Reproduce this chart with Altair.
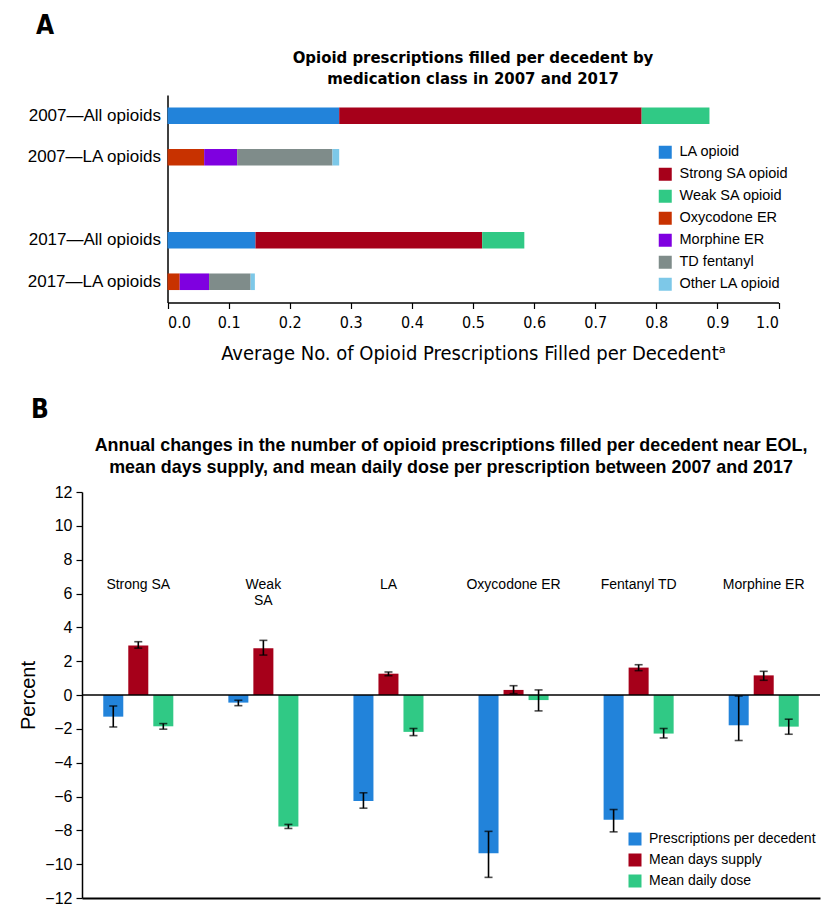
import altair as alt
import pandas as pd

COND = "Liberation Sans Narrow, DejaVu Sans Condensed, Arial Narrow, sans-serif"
REG = "Liberation Sans, Arial, Helvetica, sans-serif"

# ---------------- Panel A data ----------------
row_slots = ["2007—All opioids", "2007—LA opioids", " ", "2017—All opioids", "2017—LA opioids"]
classes_all = ["LA opioid", "Strong SA opioid", "Weak SA opioid"]
classes_la = ["Oxycodone ER", "Morphine ER", "TD fentanyl", "Other LA opioid"]
all_2007 = [0.281, 0.495, 0.111]
la_2007 = [0.060, 0.054, 0.156, 0.011]
all_2017 = [0.144, 0.371, 0.069]
la_2017 = [0.020, 0.048, 0.068, 0.007]
colors_a = ["#2283DA", "#A6001A", "#30C985", "#C83200", "#7F00E0", "#7F8C8A", "#7DC8E8"]
x_ticks_a = [0.0, 0.1, 0.2, 0.3, 0.4, 0.5, 0.6, 0.7, 0.8, 0.9, 1.0]
heading_a = "Opioid prescriptions filled per decedent by\nmedication class in 2007 and 2017"

# ---------------- Panel B data ----------------
cats_b = ["Strong SA", "Weak SA", "LA", "Oxycodone ER", "Fentanyl TD", "Morphine ER"]
cat_labels_b = ["Strong SA", "Weak\nSA", "LA", "Oxycodone ER", "Fentanyl TD", "Morphine ER"]
measures_b = ["Prescriptions per decedent", "Mean days supply", "Mean daily dose"]
rx_per_decedent = [-1.28, -0.45, -6.27, -9.36, -7.38, -1.79]
rx_lo = [-1.89, -0.63, -6.69, -10.78, -8.09, -2.69]
rx_hi = [-0.65, -0.31, -5.78, -8.06, -6.77, -0.06]
days_supply = [2.93, 2.76, 1.26, 0.30, 1.62, 1.16]
ds_lo = [2.77, 2.36, 1.14, 0.08, 1.44, 0.87]
ds_hi = [3.15, 3.23, 1.36, 0.55, 1.79, 1.40]
daily_dose = [-1.85, -7.77, -2.18, -0.30, -2.28, -1.87]
dd_lo = [-2.02, -7.89, -2.40, -0.94, -2.54, -2.32]
dd_hi = [-1.69, -7.65, -1.98, 0.30, -1.98, -1.43]
colors_b = ["#2283DA", "#A6001A", "#30C985"]
y_ticks_b = [-12, -10, -8, -6, -4, -2, 0, 2, 4, 6, 8, 10, 12]
heading_b = ("Annual changes in the number of opioid prescriptions filled per decedent near EOL,\n"
             "mean days supply, and mean daily dose per prescription between 2007 and 2017")

# ---------------- build tables ----------------
recs = []
for row, classes, vals in [
    ("2007—All opioids", classes_all, all_2007),
    ("2007—LA opioids", classes_la, la_2007),
    ("2017—All opioids", classes_all, all_2017),
    ("2017—LA opioids", classes_la, la_2017),
]:
    for i, (c, v) in enumerate(zip(classes, vals)):
        recs.append({"row": row, "cls": c, "value": v, "order": i})
df_a = pd.DataFrame(recs)

recs = []
for m, vals, los, his in [
    (measures_b[0], rx_per_decedent, rx_lo, rx_hi),
    (measures_b[1], days_supply, ds_lo, ds_hi),
    (measures_b[2], daily_dose, dd_lo, dd_hi),
]:
    for c, v, lo, hi in zip(cats_b, vals, los, his):
        recs.append({"cat": c, "measure": m, "value": v, "lo": lo, "hi": hi})
df_b = pd.DataFrame(recs)
df_lab = pd.DataFrame({"cat": cats_b, "label": cat_labels_b})

W = 738
HA = 207.5
HB = 406

# ---------------- Panel A ----------------
xa = alt.X(
    "value:Q", stack="zero",
    scale=alt.Scale(domain=[0, 1], range=[85.5, 696.5], nice=False, zero=True),
    axis=alt.Axis(values=x_ticks_a, format=".1f", tickSize=6, labelPadding=6,
                  labelFont=COND, labelFontSize=16, domainWidth=1.5, tickWidth=1.2,
                  title="Average No. of Opioid Prescriptions Filled per Decedentᵃ",
                  titleFont=COND, titleFontSize=20, titleFontWeight="normal",
                  titlePadding=13),
)
ya = alt.Y(
    "row:N",
    scale=alt.Scale(domain=row_slots, paddingInner=0.6, paddingOuter=0.3),
    axis=alt.Axis(title=None, ticks=False, offset=-85.5, labelFont=REG,
                  labelFontSize=17, labelPadding=7, domainWidth=1.5),
)
bars_a = alt.Chart(df_a).mark_bar().encode(
    x=xa,
    y=ya,
    order=alt.Order("order:Q", sort="ascending"),
    color=alt.Color(
        "cls:N",
        scale=alt.Scale(domain=classes_all + classes_la, range=colors_a),
        legend=alt.Legend(title=None, orient="none", legendX=576, legendY=50,
                          symbolType="square", symbolSize=169, symbolStrokeWidth=0,
                          labelFont=REG, labelFontSize=14.5, rowPadding=7,
                          labelOffset=7, padding=0, labelLimit=300),
    ),
)
lab_a = alt.Chart(pd.DataFrame({"panel": ["A"]})).mark_text(
    font=COND, fontSize=26, fontWeight="bold", color="black"
).encode(x=alt.value(-37), y=alt.value(-69), text="panel:N")
head_a = alt.Chart(pd.DataFrame({"head": [heading_a]})).mark_text(
    font=COND, fontSize=16.6, fontWeight="bold", color="black", lineBreak="\n",
    lineHeight=21, baseline="middle", align="center"
).encode(x=alt.value(391), y=alt.value(-37), text="head:N")

panel_a = alt.layer(bars_a, lab_a, head_a).properties(width=W, height=HA)

# ---------------- Panel B ----------------
xb = alt.X("cat:N", scale=alt.Scale(domain=cats_b, paddingInner=0.4, paddingOuter=0.15),
           axis=alt.Axis(title=None, labels=False, ticks=False, domainWidth=1.8))
xob = alt.XOffset("measure:N", scale=alt.Scale(domain=measures_b, paddingInner=0.2, paddingOuter=0.1))
yscale_b = alt.Scale(domain=[-12, 12], nice=False)
yaxis_b = alt.Axis(values=y_ticks_b, tickSize=6, labelPadding=4, labelFont=REG,
                   labelFontSize=16, domainWidth=1.5, tickWidth=1.2, labelOverlap=False,
                   titleFont=REG, titleFontSize=20, titleFontWeight="normal", titlePadding=6,
                   title="Percent")

bars_b = alt.Chart(df_b).mark_bar().encode(
    x=xb, xOffset=xob,
    y=alt.Y("value:Q", scale=yscale_b, axis=yaxis_b),
    color=alt.Color(
        "measure:N",
        scale=alt.Scale(domain=measures_b, range=colors_b),
        legend=alt.Legend(title=None, orient="none", legendX=546, legendY=340,
                          symbolType="square", symbolSize=169, symbolStrokeWidth=0,
                          labelFont=REG, labelFontSize=14, rowPadding=7,
                          labelOffset=7, padding=0, labelLimit=300),
    ),
)
err_b = alt.Chart(df_b).mark_rule(color="black", strokeWidth=1.6).encode(
    x=alt.X("cat:N", axis=None), xOffset=xob,
    y=alt.Y("lo:Q", axis=None), y2="hi:Q",
)
cap_lo = alt.Chart(df_b).mark_tick(color="black", thickness=1.6, size=8).encode(
    x=alt.X("cat:N", axis=None), xOffset=xob, y=alt.Y("lo:Q", axis=None),
)
cap_hi = alt.Chart(df_b).mark_tick(color="black", thickness=1.6, size=8).encode(
    x=alt.X("cat:N", axis=None), xOffset=xob, y=alt.Y("hi:Q", axis=None),
)
zero_b = alt.Chart(pd.DataFrame({"z": [0]})).mark_rule(color="black", strokeWidth=1.6).encode(
    y=alt.Y("z:Q", axis=None),
)
cat_text = alt.Chart(df_lab).mark_text(
    font=REG, fontSize=14, baseline="top", lineBreak="\n", lineHeight=16, color="black"
).encode(x=alt.X("cat:N", axis=None), y=alt.Y(datum=6.9, axis=None), text="label:N")
lab_b = alt.Chart(pd.DataFrame({"panel": ["B"]})).mark_text(
    font=COND, fontSize=26, fontWeight="bold", color="black"
).encode(x=alt.value(-42), y=alt.value(-82), text="panel:N")
head_b = alt.Chart(pd.DataFrame({"head": [heading_b]})).mark_text(
    font=REG, fontSize=17.9, fontWeight="bold", color="black", lineBreak="\n",
    lineHeight=22, baseline="middle", align="center"
).encode(x=alt.value(369), y=alt.value(-46), text="head:N")

panel_b = alt.layer(bars_b, err_b, cap_lo, cap_hi, zero_b, cat_text, lab_b, head_b).resolve_axis(
    x="independent", y="independent"
).properties(width=W, height=HB)

chart = alt.vconcat(panel_a, panel_b, spacing=189, bounds="flush").resolve_scale(
    color="independent", x="independent", y="independent"
).properties(
    padding={"left": 10, "top": 5, "right": 5, "bottom": 5}
).configure_view(stroke=None).configure_axis(
    grid=False, domainColor="black", tickColor="black", labelColor="black", titleColor="black",
    labelOverlap=False
).configure_legend(labelColor="black")

chart.save("out.html", embed_options={"renderer": "svg", "actions": False})
